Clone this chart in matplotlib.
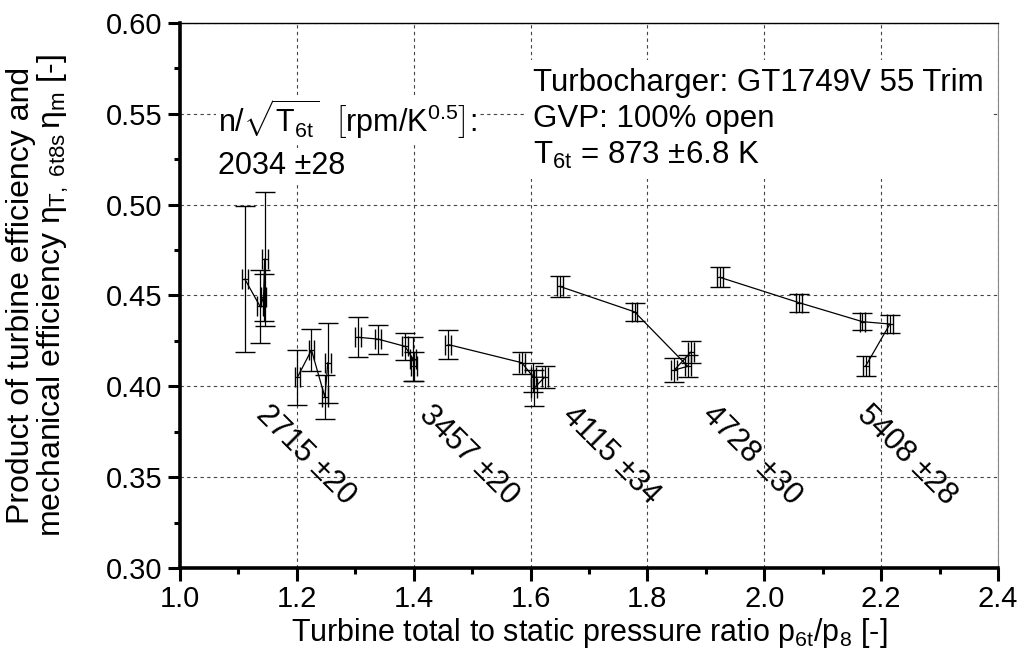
import matplotlib
matplotlib.use("Agg")
import matplotlib.pyplot as plt
from matplotlib.ticker import MultipleLocator

plt.rcParams["font.family"] = ["Liberation Sans", "DejaVu Sans"]
plt.rcParams["mathtext.fontset"] = "custom"
plt.rcParams["mathtext.rm"] = "Liberation Sans"
plt.rcParams["mathtext.it"] = "Liberation Sans"
plt.rcParams["font.size"] = 22

# speed lines n/sqrt(T6t) [rpm/K^0.5]
speed_labels = ["2715 \u00b120", "3457 \u00b120", "4115 \u00b134", "4728 \u00b130", "5408 \u00b128"]
label_x = [1.215, 1.494, 1.738, 1.978, 2.244]
label_y = [0.362, 0.362, 0.362, 0.362, 0.362]

pr_2034 = [1.111, 1.137, 1.143, 1.145]
eta_2034 = [0.459, 0.444, 0.449, 0.470]
err_2034 = [0.040, 0.020, 0.013, 0.037]

pr_2715 = [1.201, 1.225, 1.248, 1.253]
eta_2715 = [0.405, 0.420, 0.394, 0.413]
err_2715 = [0.015, 0.0115, 0.012, 0.022]

pr_3457 = [1.305, 1.339, 1.385, 1.399, 1.401]
eta_3457 = [0.427, 0.426, 0.422, 0.415, 0.411]
err_3457 = [0.011, 0.008, 0.0076, 0.012, 0.008]

pr_4115 = [1.459, 1.585, 1.605, 1.624, 1.606]
eta_4115 = [0.423, 0.413, 0.405, 0.405, 0.399]
err_4115 = [0.008, 0.006, 0.008, 0.006, 0.010]

pr_4728 = [1.650, 1.778, 1.869, 1.846, 1.875]
eta_4728 = [0.455, 0.441, 0.411, 0.409, 0.419]
err_4728 = [0.006, 0.005, 0.006, 0.0065, 0.006]

pr_5408 = [1.924, 2.060, 2.168, 2.215, 2.1735]
eta_5408 = [0.460, 0.446, 0.4356, 0.4343, 0.4112]
err_5408 = [0.0055, 0.005, 0.0048, 0.005, 0.0055]

pr_err = 0.005

groups = [
    (pr_2034, eta_2034, err_2034),
    (pr_2715, eta_2715, err_2715),
    (pr_3457, eta_3457, err_3457),
    (pr_4115, eta_4115, err_4115),
    (pr_4728, eta_4728, err_4728),
    (pr_5408, eta_5408, err_5408),
]

fig = plt.figure(figsize=(10.24, 6.68), dpi=100)
ax = fig.add_axes([180 / 1024, 100 / 668, 818 / 1024, 545 / 668])

for x, y, e in groups:
    ax.plot(x, y, color="black", linewidth=0.9, zorder=3)
    ax.errorbar(x, y, yerr=e, xerr=pr_err, fmt="none", ecolor="black",
                elinewidth=0.9, capsize=7.2, capthick=1.0, zorder=3)

ax.set_xlim(1.0, 2.4)
ax.set_ylim(0.30, 0.60)
ax.xaxis.set_major_locator(MultipleLocator(0.2))
ax.xaxis.set_minor_locator(MultipleLocator(0.1))
ax.yaxis.set_major_locator(MultipleLocator(0.05))
ax.yaxis.set_minor_locator(MultipleLocator(0.025))
ax.xaxis.set_major_formatter(plt.FormatStrFormatter("%.1f"))
ax.yaxis.set_major_formatter(plt.FormatStrFormatter("%.2f"))
ax.grid(True, which="major", linestyle=(0, (3, 3)), color="#444444", linewidth=0.8, zorder=0)
ax.set_axisbelow(True)

ax.spines["left"].set_linewidth(2.6)
ax.spines["bottom"].set_linewidth(2.6)
ax.spines["top"].set_linewidth(1.0)
ax.spines["right"].set_linewidth(0.8)
ax.spines["right"].set_color("#888888")
ax.tick_params(which="major", direction="out", length=9, width=2.2, labelsize=21, top=False, right=False)
ax.tick_params(which="minor", direction="out", length=4.5, width=2.2, top=False, right=False)

ax.set_xlabel(r"Turbine total to static pressure ratio p$_{\mathrm{6t}}$/p$_{\mathrm{8}}$ [-]",
              fontsize=22, labelpad=2)
ax.set_ylabel("Product of turbine efficiency and\nmechanical efficiency "
              r"$\eta_{\mathrm{T,\ 6t8s}}\,\eta_{\mathrm{m}}$ [-]",
              fontsize=23, linespacing=1.0)
ax.yaxis.set_label_coords(-0.133, 0.5)

for lbl, lx, ly in zip(speed_labels, label_x, label_y):
    ax.text(lx, ly, lbl, rotation=-45, rotation_mode="anchor", ha="center", va="center",
            fontsize=22, zorder=4)

box = dict(facecolor="white", edgecolor="none", pad=2)
ax.text(0.047, 0.823,
        r"n/$\sqrt{\mathrm{T}_{\mathrm{6t}}}$  $\left[\mathrm{rpm/K}^{0.5}\right]$:",
        transform=ax.transAxes, ha="left", va="center", fontsize=22, bbox=box, zorder=5)
ax.text(0.047, 0.738, "2034 \u00b128", transform=ax.transAxes, ha="left", va="center",
        fontsize=22, bbox=box, zorder=5)
ax.text(0.432, 0.823,
        "Turbocharger: GT1749V 55 Trim\nGVP: 100% open\nT$_{\\mathrm{6t}}$ = 873 \u00b16.8 K",
        transform=ax.transAxes, ha="left", va="center", fontsize=22.5, linespacing=1.25,
        bbox=dict(facecolor="white", edgecolor="none", pad=6), zorder=5)

fig.savefig("out.png", dpi=100)
